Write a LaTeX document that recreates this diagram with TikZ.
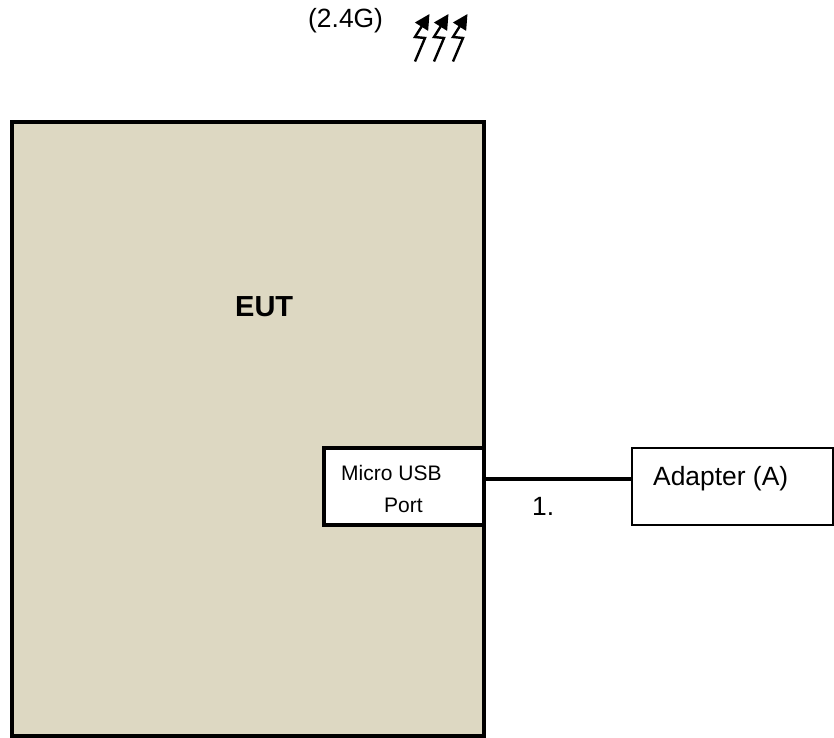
\documentclass[tikz,border=0pt]{standalone}
\usepackage{fontspec}
\setmainfont{Liberation Sans}
\usepackage{xcolor}
\usetikzlibrary{arrows.meta, positioning, calc}
\definecolor{eut-tan}{RGB}{221, 216, 194}

\begin{document}
\begin{tikzpicture}[
    x=1pt, y=-1pt,
    eutbox/.style={rectangle, draw=black, line width=4pt, fill=eut-tan,
                minimum width=472pt, minimum height=614pt, inner sep=0pt},
    portbox/.style={rectangle, draw=black, line width=4pt, fill=white,
                minimum width=160pt, minimum height=77pt, inner sep=0pt},
    adapterbox/.style={rectangle, draw=black, line width=1.6pt, fill=white,
                minimum width=201pt, minimum height=77pt, inner sep=0pt},
    lbl/.style={font=\fontsize{26.4}{30}\selectfont, inner sep=0pt, anchor=base west},
    portlbl/.style={font=\fontsize{21}{25}\selectfont, inner sep=0pt, anchor=base west},
    wire/.style={line width=4pt},
    bolt/.style={-{Triangle[length=15pt, width=15pt]}, line width=2.4pt}
  ]
    \useasboundingbox (0,0) rectangle (834,737);

    \node[eutbox]     (eut)     at (248,429)   {};
    \node[portbox]    (port)    at (404,486.5) {};
    \node[adapterbox] (adapter) at (732.5,486.5) {};

    \draw[wire] ([yshift=8pt]port.east) -- ([yshift=8pt]adapter.west);

    \node[lbl, font=\fontsize{29}{33}\selectfont\bfseries] (eutlbl) at (235,316) {EUT};
    \node[portlbl] (micro) at (341,480) {Micro USB};
    \node[portlbl] (portlbl) at (384,512) {Port};
    \node[lbl] (adapterlbl) at (653,485) {Adapter (A)};
    \node[lbl] (cablelbl) at (532,515) {1.};
    \node[lbl] (bandlbl) at (308,27) {(2.4G)};

    % three bolts
    \foreach \dx in {0,19,38} {
      \draw[bolt, xshift=\dx pt] (415,61.5) -- (425,38) -- (415,37) -- (429.5,14);
    }
  \end{tikzpicture}
\end{document}
